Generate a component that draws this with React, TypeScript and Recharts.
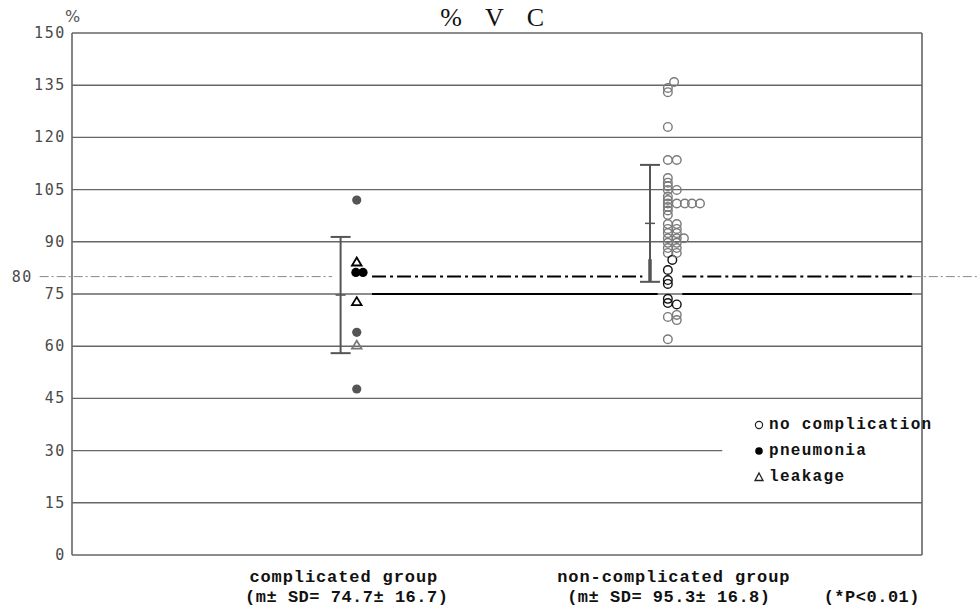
import React from 'react';
import { ScatterChart, Scatter, XAxis, YAxis, ReferenceLine, ErrorBar, Legend } from 'recharts';

// ---- data ----
const yTicks = [0, 15, 30, 45, 60, 75, 80, 90, 105, 120, 135, 150];
const gridLevels = [15, 30, 45, 60, 75, 90, 105, 120, 135];
const thresholdLevel = 80;
const normalLevel = 75;

const groupNames = ['complicated group', 'non-complicated group'];
const groupStats = ['(m\u00b1 SD= 74.7\u00b1 16.7)', '(m\u00b1 SD= 95.3\u00b1 16.8)'];
const pValueText = '(*P<0.01)';
const legendLabels = ['no complication', 'pneumonia', 'leakage'];

const groupX = [33.5, 70.1];
const columnStep = 1.05;

const pneumoniaValues = [102, 81.2, 81.2, 64, 47.7];
const pneumoniaColumns = [0, -0.1, 0.7, 0, 0];

const leakageValues = [84.2, 72.8, 60.3];
const leakageColumns = [0, 0, 0];

const noComplicationValues = [
  62, 68.4, 72.4, 73.6, 77.9, 79, 81.9, 86.8, 88.2, 89.7, 91, 92.5, 93.7, 95.1, 97.7, 99, 100, 101, 102, 103,
  104.9, 106, 107, 108.3, 113.5, 123, 133, 134.2,
  67.5, 69, 72, 84.8, 86.8, 88.2, 89.7, 91, 92.5, 93.7, 95.1, 101, 104.9, 113.5, 135.9,
  91, 101, 101, 101,
];
const noComplicationColumns = [
  0, 0, 0, 0, 0, 0, 0, 0, 0, 0, 0, 0, 0, 0, 0, 0, 0, 0, 0, 0,
  0, 0, 0, 0, 0, 0, 0, 0,
  1, 1, 1, 0.5, 1, 1, 1, 1, 1, 1, 1, 1, 1, 1, 0.7,
  1.8, 1.9, 2.7, 3.6,
];

const meanValues = [74.7, 95.3];
const sdValues = [16.7, 16.8];
const meanBarX = [31.6, 68.0];

// ---- derived series ----
const pneumoniaData = pneumoniaValues.map((y, i) => ({ x: groupX[0] + pneumoniaColumns[i] * columnStep, y }));
const leakageData = leakageValues.map((y, i) => ({ x: groupX[0] + leakageColumns[i] * columnStep, y }));
const noComplicationData = noComplicationValues.map((y, i) => ({
  x: groupX[1] + noComplicationColumns[i] * columnStep,
  y,
}));
const meanData = meanValues.map((y, i) => ({ x: meanBarX[i], y, err: sdValues[i] }));

const inDarkBand = (v: number) => v >= 70 && v <= 86;

const OpenCircle = (p: any) => (
  <circle cx={p.cx} cy={p.cy} r={4.3} fill="none" stroke={inDarkBand(p.payload.y) ? '#111' : '#7a7a7a'} strokeWidth={1.4} />
);
const FilledCircle = (p: any) => (
  <circle cx={p.cx} cy={p.cy} r={4.6} fill={inDarkBand(p.payload.y) ? '#000' : '#555'} />
);
const Triangle = (p: any) => {
  const c = inDarkBand(p.payload.y) || p.payload.y > 83 ? '#000' : '#777';
  return (
    <path
      d={`M${p.cx},${p.cy - 4.5} L${p.cx + 4.8},${p.cy + 3.5} L${p.cx - 4.8},${p.cy + 3.5} Z`}
      fill="none"
      stroke={c}
      strokeWidth={1.8}
    />
  );
};
const MeanTick = (p: any) => (
  <line x1={p.cx - 5} x2={p.cx + 5} y1={p.cy} y2={p.cy} stroke="#555" strokeWidth={1.5} />
);

const monoFont = "'Liberation Mono', 'DejaVu Sans Mono', monospace";

const YTick = (p: any) => {
  const v = p.payload.value;
  const shift = v === thresholdLevel ? -33 : 0;
  return (
    <text
      x={p.x + shift + 2}
      y={p.y}
      dy={5}
      textAnchor="end"
      fill="#4a4a4a"
      fontFamily="'DejaVu Sans Mono', monospace"
      fontSize={15}
      letterSpacing={1.6}
    >
      {v}
    </text>
  );
};

const line1Offsets = [-13, 6];
const line2Offsets = [-10, 1];
const XTick = (p: any) => {
  const i = p.index;
  return (
    <g fontFamily={monoFont} fontWeight="bold" fontSize={17} fill="#111">
      <text x={p.x + line1Offsets[i]} y={p.y + 27} textAnchor="middle" letterSpacing={0.9}>
        {groupNames[i]}
      </text>
      <text x={p.x + line2Offsets[i]} y={p.y + 47} textAnchor="middle" letterSpacing={0.5}>
        {groupStats[i]}
      </text>
      {i === 1 && (
        <text x={p.x + 204} y={p.y + 47} textAnchor="middle" letterSpacing={0.5}>
          {pValueText}
        </text>
      )}
    </g>
  );
};

const LegendIcon = ({ k }: { k: number }) => (
  <svg width={12} height={12} style={{ marginRight: 4, flex: 'none' }}>
    {k === 0 && <circle cx={6} cy={6} r={3.6} fill="none" stroke="#222" strokeWidth={1.2} />}
    {k === 1 && <circle cx={6} cy={6} r={3.8} fill="#000" />}
    {k === 2 && <path d="M6,2 L10,9.5 L2,9.5 Z" fill="none" stroke="#222" strokeWidth={1.3} />}
  </svg>
);

const LegendContent = () => (
  <div style={{ fontFamily: monoFont, fontWeight: 'bold', fontSize: 16, letterSpacing: 1.3, color: '#111' }}>
    {legendLabels.map((l, k) => (
      <div key={l} style={{ display: 'flex', alignItems: 'center', height: 26 }}>
        <LegendIcon k={k} />
        <span>{l}</span>
      </div>
    ))}
  </div>
);

const gridColor = '#666';

export default function App() {
  return (
    <div style={{ position: 'absolute', left: 0, top: 0, width: 977, height: 606, background: '#fff' }}>
      <div
        style={{
          position: 'absolute',
          left: 0,
          top: 3,
          width: 977,
          textAlign: 'center',
          fontFamily: "'Liberation Serif', serif",
          fontSize: 26,
          letterSpacing: 8.5,
          paddingLeft: 16,
          boxSizing: 'border-box',
          color: '#111',
          lineHeight: '30px',
        }}
      >
        % V C
      </div>
      <div
        style={{
          position: 'absolute',
          left: 65,
          top: 8,
          fontFamily: "'DejaVu Sans', sans-serif",
          fontSize: 16,
          color: '#555',
          lineHeight: '18px',
        }}
      >
        %
      </div>
      <ScatterChart width={977} height={606} margin={{ top: 33, right: 55, bottom: 0, left: 0 }}>
        <XAxis
          type="number"
          dataKey="x"
          domain={[0, 100]}
          ticks={groupX}
          tick={<XTick />}
          tickLine={false}
          tickSize={0}
          tickMargin={0}
          height={51}
          axisLine={{ stroke: gridColor, strokeWidth: 1.6 }}
          allowDataOverflow
        />
        <YAxis
          type="number"
          dataKey="y"
          domain={[0, 150]}
          ticks={yTicks}
          interval={0}
          tick={<YTick />}
          tickLine={false}
          tickSize={4}
          tickMargin={4}
          width={72}
          axisLine={{ stroke: gridColor, strokeWidth: 1.6 }}
        />
        {gridLevels.map((g) =>
          g === 30 ? (
            <ReferenceLine key={g} segment={[{ x: 0, y: g }, { x: 76.5, y: g }]} stroke={gridColor} strokeWidth={1.4} />
          ) : (
            <ReferenceLine key={g} y={g} stroke={gridColor} strokeWidth={1.4} />
          )
        )}
        <ReferenceLine y={150} stroke={gridColor} strokeWidth={1.6} />
        <ReferenceLine x={100} stroke={gridColor} strokeWidth={1.6} />
        <ReferenceLine
          segment={[{ x: -3.8, y: thresholdLevel }, { x: 30.6, y: thresholdLevel }]}
          stroke="#888"
          strokeWidth={1}
          strokeDasharray="9 3 2 3"
          ifOverflow="visible"
        />
        <ReferenceLine
          segment={[{ x: 98.8, y: thresholdLevel }, { x: 106.5, y: thresholdLevel }]}
          stroke="#888"
          strokeWidth={1}
          strokeDasharray="9 3 2 3"
          ifOverflow="visible"
        />
        <ReferenceLine
          segment={[{ x: 35.3, y: thresholdLevel }, { x: 67.1, y: thresholdLevel }]}
          stroke="#000"
          strokeWidth={2}
          strokeDasharray="14 4 3 4"
        />
        <ReferenceLine
          segment={[{ x: 71.8, y: thresholdLevel }, { x: 98.8, y: thresholdLevel }]}
          stroke="#000"
          strokeWidth={2}
          strokeDasharray="14 4 3 4"
        />
        <ReferenceLine
          segment={[{ x: 35.3, y: normalLevel }, { x: 68.9, y: normalLevel }]}
          stroke="#000"
          strokeWidth={2}
        />
        <ReferenceLine
          segment={[{ x: 71.8, y: normalLevel }, { x: 98.8, y: normalLevel }]}
          stroke="#000"
          strokeWidth={2}
        />
        <ReferenceLine
          segment={[{ x: meanBarX[1], y: meanValues[1] - sdValues[1] }, { x: meanBarX[1], y: 85 }]}
          stroke="#000"
          strokeWidth={3}
        />
        <Scatter data={meanData} shape={MeanTick} isAnimationActive={false} legendType="none">
          <ErrorBar dataKey="err" direction="y" width={10} stroke="#555" strokeWidth={2} />
        </Scatter>
        <Scatter data={noComplicationData} shape={OpenCircle} isAnimationActive={false} />
        <Scatter data={pneumoniaData} shape={FilledCircle} isAnimationActive={false} />
        <Scatter data={leakageData} shape={Triangle} isAnimationActive={false} />
        <Legend
          layout="vertical"
          align="center"
          verticalAlign="middle"
          content={<LegendContent />}
          wrapperStyle={{ position: 'absolute', left: 753, top: 412, width: 200, height: 80 }}
        />
      </ScatterChart>
    </div>
  );
}
